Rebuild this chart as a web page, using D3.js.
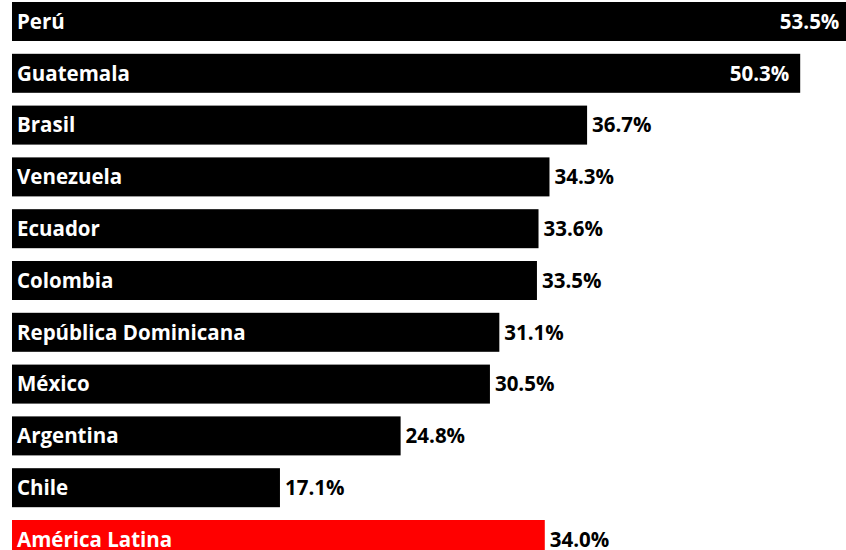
<!DOCTYPE html>
<html>
<head>
<meta charset="utf-8">
<script src="https://cdn.jsdelivr.net/npm/d3@7"></script>
<style>
  body { margin: 0; background: #fff; }
  svg { display: block; }
  text { font-family: "Open Sans", "Liberation Sans", sans-serif; font-weight: 700; }
</style>
</head>
<body>
<svg width="846" height="550"></svg>
<script>
// categories and values
var countries = ["Perú", "Guatemala", "Brasil", "Venezuela", "Ecuador", "Colombia",
    "República Dominicana", "México", "Argentina", "Chile", "América Latina"];
var values = [53.5, 50.3, 36.7, 34.3, 33.6, 33.5, 31.1, 30.5, 24.8, 17.1, 34.0];
var highlight = "América Latina";

var data = countries.map((c, i) => ({ name: c, value: values[i] }));

var svg = d3.select("svg"),
    width = +svg.attr("width"),
    height = +svg.attr("height");

// x: roughly 15.67px per percentage point, bars start at x=12
var x = d3.scaleLinear()
    .domain([0, 60])
    .range([12, 12 + 60 * 15.67]);

// step ~51.8px, bars ~39px tall
var y = d3.scaleBand()
    .domain(countries)
    .range([2, 2 + 51.8 * 10 + 39])
    .paddingInner(12.8 / 51.8)
    .paddingOuter(0);

var bars = svg.selectAll("g.bar")
    .data(data)
    .join("g")
    .attr("class", "bar")
    .attr("transform", d => "translate(0," + y(d.name) + ")");

bars.append("rect")
    .attr("x", x(0))
    .attr("width", d => x(d.value) - x(0))
    .attr("height", y.bandwidth())
    .attr("fill", d => d.name === highlight ? "#ff0000" : "#000");

// country names inside the bars
bars.append("text")
    .attr("x", x(0) + 5)
    .attr("y", y.bandwidth() / 2)
    .attr("dy", "0.36em")
    .attr("fill", "#fff")
    .style("font-size", "20.5px")
    .text(d => d.name);

// value labels: inside for the long bars, outside otherwise
var inside = d => d.value > 45;

bars.append("text")
    .attr("x", d => inside(d) ? x(d.value) - 11 : x(d.value) + 5)
    .attr("y", y.bandwidth() / 2)
    .attr("dy", "0.36em")
    .attr("text-anchor", d => inside(d) ? "end" : "start")
    .attr("fill", d => inside(d) ? "#fff" : "#000")
    .style("font-size", "20.5px")
    .text(d => d.value.toFixed(1) + "%");
</script>
</body>
</html>
